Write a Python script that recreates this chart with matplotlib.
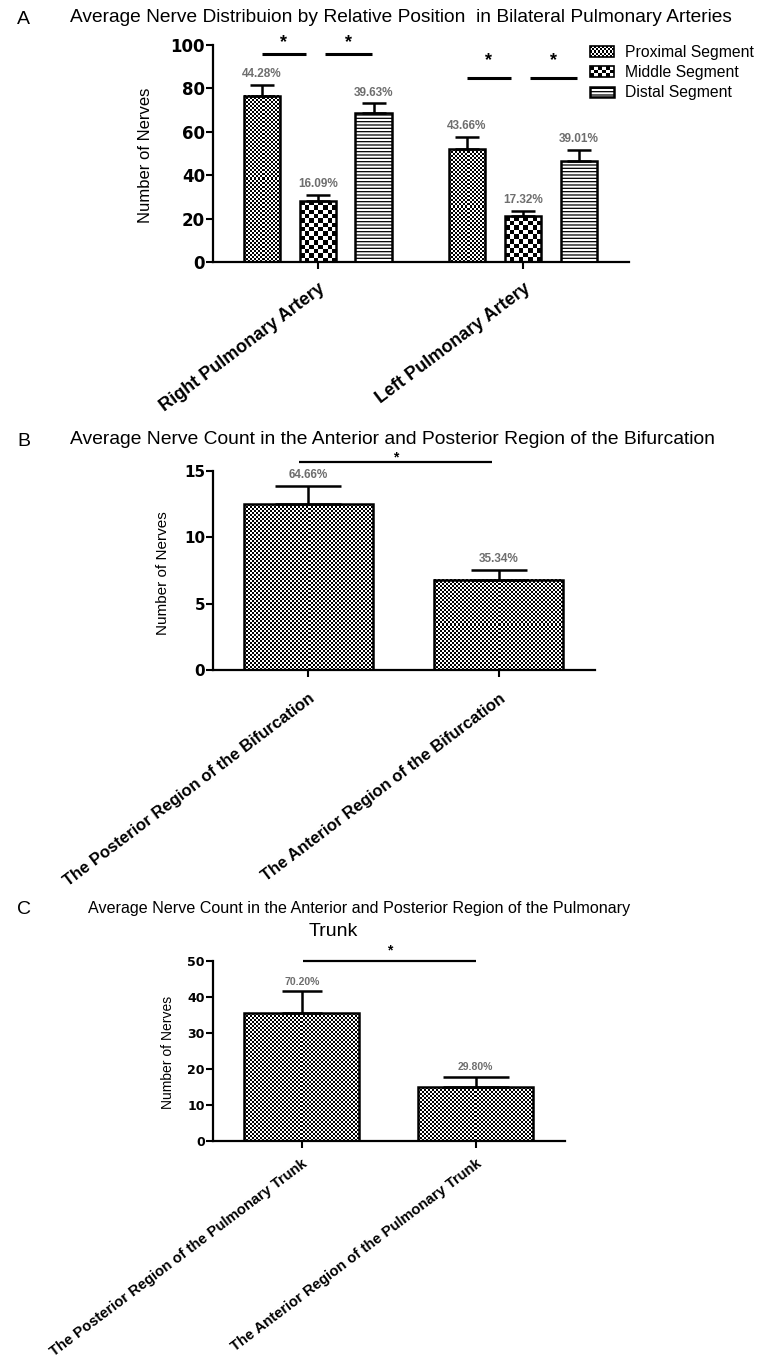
import numpy as np
import matplotlib
matplotlib.use("Agg")
import matplotlib.pyplot as plt
from matplotlib.patches import Rectangle
from matplotlib.legend_handler import HandlerBase

plt.rcParams["font.family"] = ["Liberation Sans", "DejaVu Sans"]
plt.rcParams["hatch.linewidth"] = 0.9

# ---- panel A: nerves by segment in the two pulmonary arteries
arteries = ["Right Pulmonary Artery", "Left Pulmonary Artery"]
segments = ["Proximal Segment", "Middle Segment", "Distal Segment"]
proximal = [76.5, 52.0]
middle = [28.0, 21.0]
distal = [68.5, 46.5]
proximal_err = [5.1, 5.8]
middle_err = [2.9, 2.5]
distal_err = [4.6, 5.1]
proximal_pct = ["44.28%", "43.66%"]
middle_pct = ["16.09%", "17.32%"]
distal_pct = ["39.63%", "39.01%"]

# ---- panel B: bifurcation
bif_regions = ["The Posterior Region of the Bifurcation",
               "The Anterior Region of the Bifurcation"]
bif_means = [12.5, 6.8]
bif_err = [1.4, 0.75]
bif_pct = ["64.66%", "35.34%"]

# ---- panel C: pulmonary trunk
trunk_regions = ["The Posterior Region of the Pulmonary Trunk",
                 "The Anterior Region of the Pulmonary Trunk"]
trunk_means = [35.5, 14.9]
trunk_err = [6.2, 3.0]
trunk_pct = ["70.20%", "29.80%"]

W, H = 761, 1363
fig = plt.figure(figsize=(W / 100, H / 100), dpi=100)
TICKFONT = "DejaVu Sans"
PCT_COLOR = "#6e6e6e"


def px_axes(x0, x1, ytop, ybot):
    return fig.add_axes([x0 / W, 1 - ybot / H, (x1 - x0) / W, (ybot - ytop) / H])


def style(ax, tick_size):
    for s in ["top", "right"]:
        ax.spines[s].set_visible(False)
    for s in ["left", "bottom"]:
        ax.spines[s].set_linewidth(1.6)
    ax.tick_params(direction="out", length=5, width=1.5)
    ax.tick_params(axis="y", pad=0.8)
    for t in ax.get_yticklabels():
        t.set_fontfamily(TICKFONT)
        t.set_fontweight("bold")
        t.set_fontsize(tick_size)


def checker(ax, bars, cell_px):
    # fill each bar with a black/white checkerboard behind its outline
    for b in bars:
        bb = b.get_window_extent()
        nx = max(1, int(round(bb.width / cell_px)))
        ny = max(1, int(round(bb.height / cell_px)))
        board = np.add.outer(np.arange(ny), np.arange(nx)) % 2
        x0, y0 = b.get_xy()
        ax.imshow(board, cmap="gray", vmin=0, vmax=1, interpolation="nearest",
                  extent=(x0, x0 + b.get_width(), y0, y0 + b.get_height()),
                  aspect="auto", zorder=1.5)


def pct_labels(ax, xs, tops, labels, size, off):
    for xx, tt, lab in zip(xs, tops, labels):
        ax.annotate(lab, (xx, tt), xytext=(0, off), textcoords="offset points",
                    ha="center", va="bottom", fontsize=size, fontweight="bold",
                    color=PCT_COLOR)


def sig(ax, x0, x1, y, ystar, lw, star_size):
    ax.plot([x0, x1], [y, y], color="black", lw=lw, clip_on=False,
            solid_capstyle="butt")
    ax.text((x0 + x1) / 2, ystar, "*", ha="center", va="center",
            fontsize=star_size, fontweight="bold", clip_on=False)


class CheckerHandler(HandlerBase):
    def __init__(self, cell_px):
        super().__init__()
        self.cell = cell_px * 72 / 100

    def create_artists(self, legend, orig_handle, xdescent, ydescent,
                       width, height, fontsize, trans):
        x0, y0 = -xdescent, -ydescent
        nx = max(1, int(round(width / self.cell)))
        ny = max(1, int(round(height / self.cell)))
        cw, ch = width / nx, height / ny
        arts = []
        for i in range(nx):
            for j in range(ny):
                if (i + j) % 2 == 0:
                    arts.append(Rectangle((x0 + i * cw, y0 + j * ch), cw, ch,
                                          facecolor="black", edgecolor="none",
                                          transform=trans))
        arts.append(Rectangle((x0, y0), width, height, facecolor="none",
                              edgecolor="black", lw=1.2, transform=trans))
        return arts


# ================= Panel A =================
axA = px_axes(213, 629, 45, 262)
x = np.arange(len(arteries))
off, bw = 0.273, 0.18
axA.set_xlim(-0.512, 1.517)
axA.set_ylim(0, 100)
bp = axA.bar(x - off, proximal, bw, facecolor="none", edgecolor="black", lw=1.8, zorder=3)
bm = axA.bar(x, middle, bw, facecolor="none", edgecolor="black", lw=1.8, zorder=3)
bd = axA.bar(x + off, distal, bw, facecolor="white", edgecolor="black", hatch="-----",
             lw=1.8, zorder=3)
checker(axA, bp, 2.0)
checker(axA, bm, 4.4)
axA.set_xlim(-0.512, 1.517)
axA.set_ylim(0, 100)
for xs, vals, errs, pcts in [(x - off, proximal, proximal_err, proximal_pct),
                             (x, middle, middle_err, middle_pct),
                             (x + off, distal, distal_err, distal_pct)]:
    axA.errorbar(xs, vals, yerr=[np.zeros(len(vals)), errs], fmt="none", ecolor="black",
                 elinewidth=1.8, capsize=8.3, capthick=1.8, zorder=4)
    pct_labels(axA, xs, np.add(vals, errs), pcts, 8.5, 3.5)
axA.set_yticks([0, 20, 40, 60, 80, 100])
axA.set_xticks(x, arteries, rotation=37, ha="right", rotation_mode="anchor",
               fontsize=13, fontweight="bold")
style(axA, 12)
axA.tick_params(axis="x", pad=8)
axA.set_ylabel("Number of Nerves", fontsize=12)
axA.yaxis.set_label_coords(-0.163, 0.493)
axA.yaxis.label.set_va("center")
# significance marks
for g, ybar, ystar in [(0, 96, 101), (1, 85, 93)]:
    sig(axA, x[g] - off, x[g] - 0.06, ybar, ystar, 2.2, 13)
    sig(axA, x[g] + 0.035, x[g] + off - 0.01, ybar, ystar, 2.2, 13)
axA.legend([bp, bm, bd], segments,
           handler_map={bp: CheckerHandler(2.0), bm: CheckerHandler(4.0)},
           loc="upper left", bbox_to_anchor=(590 / W, 1 - 45 / H),
           bbox_transform=fig.transFigure, frameon=False, fontsize=11.3,
           handlelength=1.5, handleheight=0.65, handletextpad=0.75,
           labelspacing=0.33, borderpad=0, borderaxespad=0)

fig.text(17 / W, 1 - 19 / H, "A", fontsize=14, ha="left", va="center")
fig.text(70 / W, 1 - 18 / H,
         "Average Nerve Distribuion by Relative Position  in Bilateral Pulmonary Arteries",
         fontsize=13.8, ha="left", va="center")

# ================= Panel B =================
axB = px_axes(213, 595, 471, 670)
xb = np.arange(len(bif_regions))
bb_ = axB.bar(xb, bif_means, 0.677, facecolor="none", edgecolor="black", lw=1.8, zorder=3)
axB.set_xlim(-0.501, 1.504)
axB.set_ylim(0, 15)
checker(axB, bb_, 2.0)
axB.set_xlim(-0.501, 1.504)
axB.set_ylim(0, 15)
for xi, m, e, cs in zip(xb, bif_means, bif_err, [23.8, 20.0]):
    axB.errorbar([xi], [m], yerr=[[0], [e]], fmt="none", ecolor="black",
                 elinewidth=1.8, capsize=cs, capthick=1.8, zorder=4)
pct_labels(axB, xb, np.add(bif_means, bif_err), bif_pct, 8.5, 3.5)
axB.set_yticks([0, 5, 10, 15])
axB.set_xticks(xb, bif_regions, rotation=37, ha="right", rotation_mode="anchor",
               fontsize=12, fontweight="bold")
style(axB, 11)
axB.tick_params(axis="x", pad=10)
axB.set_ylabel("Number of Nerves", fontsize=11)
axB.yaxis.set_label_coords(-0.131, 0.487)
axB.yaxis.label.set_va("center")
sig(axB, xb[0] - 0.05, xb[1] - 0.035, 15.67, 16.05, 1.6, 10)
fig.text(17 / W, 1 - 441 / H, "B", fontsize=14, ha="left", va="center")
fig.text(70 / W, 1 - 440 / H,
         "Average Nerve Count in the Anterior and Posterior Region of the Bifurcation",
         fontsize=13.9, ha="left", va="center")

# ================= Panel C =================
axC = px_axes(213, 565, 961, 1141)
xc = np.arange(len(trunk_regions))
bc = axC.bar(xc, trunk_means, 0.66, facecolor="none", edgecolor="black", lw=1.8, zorder=3)
axC.set_xlim(-0.51, 1.513)
axC.set_ylim(0, 50)
checker(axC, bc, 2.0)
axC.set_xlim(-0.51, 1.513)
axC.set_ylim(0, 50)
for xi, m, e, cs in zip(xc, trunk_means, trunk_err, [14.4, 24.0]):
    axC.errorbar([xi], [m], yerr=[[0], [e]], fmt="none", ecolor="black",
                 elinewidth=1.8, capsize=cs, capthick=1.8, zorder=4)
pct_labels(axC, xc, np.add(trunk_means, trunk_err), trunk_pct, 7.5, 3)
axC.set_yticks([0, 10, 20, 30, 40, 50])
axC.set_xticks(xc, trunk_regions, rotation=37, ha="right", rotation_mode="anchor",
               fontsize=10.6, fontweight="bold")
style(axC, 9)
axC.tick_params(axis="x", pad=6.5)
axC.set_ylabel("Number of Nerves", fontsize=10)
axC.yaxis.set_label_coords(-0.128, 0.49)
axC.yaxis.label.set_va("center")
sig(axC, xc[0] + 0.01, xc[1], 50, 53, 1.6, 10)
fig.text(17 / W, 1 - 909 / H, "C", fontsize=14, ha="left", va="center")
fig.text(88 / W, 1 - 908 / H,
         "Average Nerve Count in the Anterior and Posterior Region of the Pulmonary",
         fontsize=11.6, ha="left", va="center")
fig.text(333 / W, 1 - 932 / H, "Trunk", fontsize=14, ha="center", va="center")

fig.savefig("out.png", dpi=100, facecolor="white")
